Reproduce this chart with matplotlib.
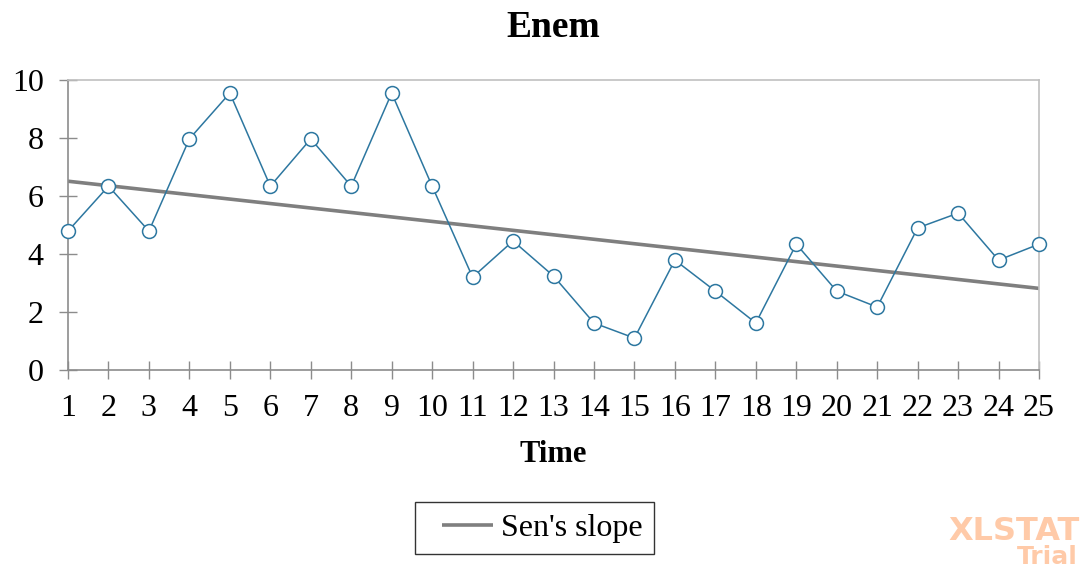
import matplotlib.pyplot as plt
from matplotlib.legend_handler import HandlerLine2D

# ----------------------
# DATOS
# ----------------------
tiempo = list(range(1, 26))
enem = [4.79, 6.34, 4.79, 7.97, 9.55, 6.34, 7.97, 6.34, 9.55, 6.34,
        3.20, 4.45, 3.24, 1.62, 1.10, 3.79, 2.72, 1.62, 4.34, 2.72,
        2.17, 4.90, 5.41, 3.79, 4.34]
sen_inicio = 6.51
sen_pendiente = -0.154
sen = [sen_inicio + sen_pendiente * (t - 1) for t in tiempo]

plt.rcParams['font.family'] = ['Liberation Serif', 'DejaVu Serif']

fig = plt.figure(figsize=(10.83, 5.70), dpi=100)
ax = fig.add_axes([0.0628, 0.3509, 0.8966, 0.5087])

ax.plot(tiempo, enem, color='#2d77a0', linewidth=1.1, marker='o', markersize=10,
        markerfacecolor='white', markeredgecolor='#2d77a0', markeredgewidth=1.1,
        clip_on=False, zorder=3)
linea_sen, = ax.plot(tiempo, sen, color='#7f7f7f', linewidth=2.6, label="Sen's slope",
                     solid_capstyle='butt', zorder=2)

ax.set_xlim(1, 25)
ax.set_ylim(0, 10)
ax.set_xticks(tiempo)
ax.set_yticks(range(0, 11, 2))
ax.tick_params(direction='inout', length=13, width=1, color='#8c8c8c',
               labelsize=23)
ax.tick_params(axis='x', pad=11)
ax.tick_params(axis='y', pad=11)
for lado in ['left', 'bottom']:
    ax.spines[lado].set_color('#8c8c8c')
    ax.spines[lado].set_linewidth(1.2)
for lado in ['top', 'right']:
    ax.spines[lado].set_color('#c0c0c0')
    ax.spines[lado].set_linewidth(1.2)

ax.set_title('Enem', fontsize=27, fontweight='bold', pad=31)
ax.set_xlabel('Time', fontsize=22, fontweight='bold', labelpad=12)

ley = ax.legend(loc='center', bbox_to_anchor=(0.48, -0.545), fontsize=23,
                frameon=True, fancybox=False, edgecolor='black',
                handlelength=2.1, handletextpad=0.25, borderpad=0.35,
                borderaxespad=0,
                handler_map={linea_sen: HandlerLine2D(xpad=0.5)})
ley.get_frame().set_linewidth(1.0)

# marca de agua
fig.text(0.997, 0.040, 'XLSTAT', fontsize=23, fontweight='bold', color='#ffcaa8',
         ha='right', va='bottom', family='DejaVu Sans')
fig.text(0.995, 0.001, 'Trial', fontsize=18, fontweight='bold', color='#ffcaa8',
         ha='right', va='bottom', family='DejaVu Sans')

fig.savefig('out.png', dpi=100)
